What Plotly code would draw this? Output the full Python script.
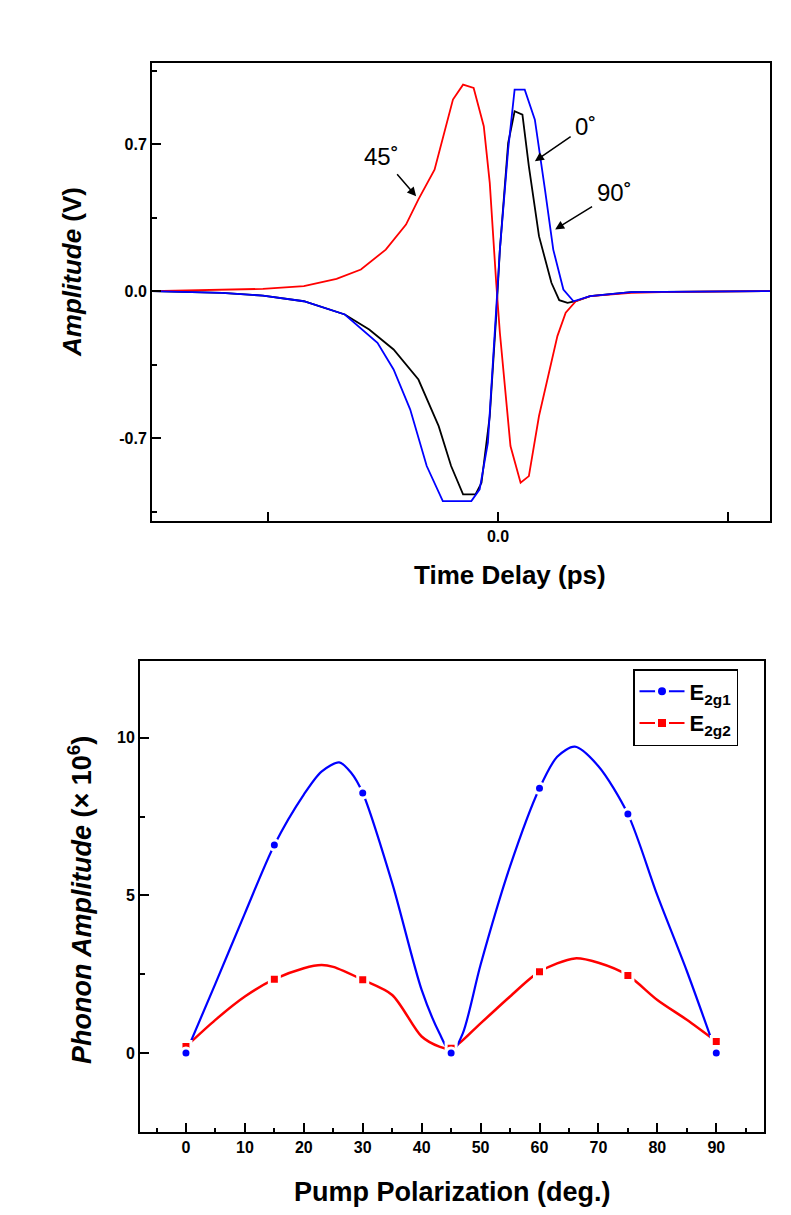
import plotly.graph_objects as go

# ---------------- Top panel data (time-delay traces) ----------------
t_0deg = [-0.752, -0.600, -0.511, -0.422, -0.333, -0.280, -0.227, -0.173, -0.129, -0.102, -0.076,
          -0.049, -0.036, -0.018, -0.004, 0.004, 0.022, 0.036, 0.053, 0.067, 0.089, 0.116, 0.133,
          0.151, 0.169, 0.200, 0.289, 0.591]
a_0deg = [0.0, -0.008, -0.021, -0.048, -0.111, -0.183, -0.278, -0.421, -0.643, -0.833, -0.968,
          -0.968, -0.913, -0.595, -0.119, 0.198, 0.706, 0.857, 0.841, 0.595, 0.262, 0.040, -0.043,
          -0.056, -0.048, -0.024, -0.005, 0.0]

t_45deg = [-0.752, -0.618, -0.511, -0.422, -0.351, -0.298, -0.244, -0.200, -0.173, -0.138, -0.098,
           -0.076, -0.053, -0.031, -0.018, -0.004, 0.004, 0.027, 0.049, 0.067, 0.089, 0.129, 0.147,
           0.169, 0.200, 0.289, 0.378, 0.591]
a_45deg = [0.0, 0.008, 0.011, 0.024, 0.059, 0.103, 0.198, 0.317, 0.437, 0.579, 0.913,
           0.984, 0.968, 0.786, 0.516, 0.040, -0.198, -0.738, -0.913, -0.881, -0.595, -0.214, -0.103,
           -0.048, -0.024, -0.008, -0.003, 0.0]

t_90deg = [-0.752, -0.600, -0.511, -0.422, -0.333, -0.262, -0.227, -0.191, -0.155, -0.120, -0.058,
           -0.040, -0.022, -0.009, 0.004, 0.022, 0.036, 0.058, 0.080, 0.102, 0.120, 0.142, 0.164,
           0.200, 0.289, 0.591]
a_90deg = [0.0, -0.008, -0.021, -0.048, -0.111, -0.246, -0.373, -0.563, -0.833, -1.0, -1.0,
           -0.944, -0.722, -0.278, 0.198, 0.675, 0.960, 0.960, 0.817, 0.484, 0.198, 0.008, -0.048,
           -0.024, -0.005, 0.0]

top_ytick_vals = [-0.7, 0.0, 0.7]
top_ytick_text = ["-0.7", "0.0", "0.7"]

# ---------------- Bottom panel data (phonon amplitude) ----------------
pol_deg = [0, 15, 30, 45, 60, 75, 90]
e2g1 = [0.0, 6.6, 8.25, 0.0, 8.4, 7.58, 0.0]
e2g2 = [0.2, 2.34, 2.32, 0.15, 2.58, 2.46, 0.36]

fit_x_e2g1 = [0, 5, 10, 15, 20, 23, 26, 28, 30, 35, 40, 43, 45, 47, 50, 55, 60, 63, 66, 70, 75, 80, 85, 90]
fit_y_e2g1 = [0.0, 2.2, 4.43, 6.6, 8.2, 8.93, 9.22, 8.9, 8.25, 5.39, 2.0, 0.63, 0.0, 0.63, 2.8, 5.92,
              8.4, 9.4, 9.72, 9.1, 7.58, 5.0, 2.6, 0.0]
fit_x_e2g2 = [0, 5, 10, 15, 20, 23, 25, 30, 35, 40, 43, 45, 50, 55, 60, 66, 70, 75, 80, 85, 90]
fit_y_e2g2 = [0.2, 1.05, 1.79, 2.34, 2.69, 2.79, 2.73, 2.32, 1.84, 0.52, 0.2, 0.13, 0.94, 1.79,
              2.58, 3.0, 2.86, 2.46, 1.68, 1.05, 0.36]

# page body has an 8px margin: size the figure to fit and convert window px -> paper
OFF = 8
W, H = 791 - 2 * OFF, 1215 - 2 * OFF
def px(x):
    return (x - OFF) / W
def py(y):
    return 1 - (y - OFF) / H

FONT = "Liberation Sans, Arial, sans-serif"

fig = go.Figure()

# top traces
fig.add_trace(go.Scatter(x=t_0deg, y=a_0deg, mode="lines", line=dict(color="black", width=1.8),
                         xaxis="x", yaxis="y", showlegend=False))
fig.add_trace(go.Scatter(x=t_45deg, y=a_45deg, mode="lines", line=dict(color="#ff0000", width=1.8),
                         xaxis="x", yaxis="y", showlegend=False))
fig.add_trace(go.Scatter(x=t_90deg, y=a_90deg, mode="lines", line=dict(color="#0000ff", width=1.8),
                         xaxis="x", yaxis="y", showlegend=False))

# bottom fitted curves
fig.add_trace(go.Scatter(x=fit_x_e2g2, y=fit_y_e2g2, mode="lines",
                         line=dict(color="#ff0000", width=2.5, shape="spline", smoothing=0.8),
                         xaxis="x2", yaxis="y2", showlegend=False))
fig.add_trace(go.Scatter(x=fit_x_e2g1, y=fit_y_e2g1, mode="lines",
                         line=dict(color="#0000ff", width=2.2, shape="spline", smoothing=0.8),
                         xaxis="x2", yaxis="y2", showlegend=False))
# bottom markers
fig.add_trace(go.Scatter(x=pol_deg, y=e2g2, mode="markers",
                         marker=dict(symbol="square", size=10, color="#ff0000", line=dict(color="white", width=3)),
                         xaxis="x2", yaxis="y2", showlegend=False))
fig.add_trace(go.Scatter(x=pol_deg, y=e2g1, mode="markers",
                         marker=dict(symbol="circle", size=10, color="#0000ff", line=dict(color="white", width=3)),
                         xaxis="x2", yaxis="y2", showlegend=False))
# legend entries
fig.add_trace(go.Scatter(x=[None], y=[None], mode="lines+markers", name="E<sub>2g1</sub>",
                         line=dict(color="#0000ff", width=2),
                         marker=dict(symbol="circle", size=11, color="#0000ff", line=dict(color="white", width=3)),
                         xaxis="x2", yaxis="y2"))
fig.add_trace(go.Scatter(x=[None], y=[None], mode="lines+markers", name="E<sub>2g2</sub>",
                         line=dict(color="#ff0000", width=2),
                         marker=dict(symbol="square", size=11, color="#ff0000", line=dict(color="white", width=3)),
                         xaxis="x2", yaxis="y2"))

tickfont = dict(family=FONT, size=16, color="black", weight="bold")
axis_common = dict(showline=True, linecolor="black", linewidth=2, mirror=True, ticks="inside",
                   tickcolor="black", tickwidth=1.5, showgrid=False, zeroline=False, tickfont=tickfont)

fig.update_layout(
    width=W, height=H, margin=dict(l=0, r=0, t=0, b=0),
    paper_bgcolor="white", plot_bgcolor="white",
    font=dict(family=FONT, color="black"),
    xaxis=dict(domain=[px(152), px(770)], anchor="y", range=[-0.752, 0.591],
               tickmode="array", tickvals=[0], ticktext=["0.0"], ticklen=9,
               minor=dict(tickmode="array", tickvals=[-0.5, 0.5], ticks="inside", ticklen=9,
                          tickcolor="black", tickwidth=1.5),
               **axis_common),
    yaxis=dict(domain=[py(521), py(63)], anchor="x", range=[-1.095, 1.087],
               tickmode="array", tickvals=top_ytick_vals, ticktext=top_ytick_text, ticklen=9,
               minor=dict(tickmode="linear", tick0=0, dtick=0.35, ticks="inside", ticklen=5,
                          tickcolor="black", tickwidth=1.5),
               **axis_common),
    xaxis2=dict(domain=[px(140), px(764)], anchor="y2", range=[-7.8, 98.1],
                tickmode="linear", tick0=0, dtick=10, ticklen=9,
                minor=dict(tickmode="linear", tick0=0, dtick=5, ticks="inside", ticklen=4,
                           tickcolor="black", tickwidth=1.5),
                **axis_common),
    yaxis2=dict(domain=[py(1132), py(661)], anchor="x2", range=[-2.51, 12.44],
                tickmode="linear", tick0=0, dtick=5, ticklen=9,
                minor=dict(tickmode="linear", tick0=0, dtick=2.5, ticks="inside", ticklen=5,
                           tickcolor="black", tickwidth=1.5),
                **axis_common),
    legend=dict(x=px(633), y=py(669), xanchor="left", yanchor="top",
                bgcolor="white", bordercolor="black", borderwidth=1.5,
                font=dict(family=FONT, size=22, color="black", weight="bold"),
                itemwidth=45, tracegroupgap=0),
)

title_top = dict(family=FONT, size=26, color="black", weight="bold")
title_bot = dict(family=FONT, size=27, color="black", weight="bold")
label_font = dict(family=FONT, size=24, color="black")
arrow_style = dict(xref="x", yref="y", axref="x", ayref="y", showarrow=True, arrowhead=2,
                   arrowsize=1.2, arrowwidth=1.5, arrowcolor="black", font=label_font,
                   standoff=0, startstandoff=4)

annotations = [
    dict(text="<i>Amplitude</i> (V)", x=px(72), y=py(272), xref="paper", yref="paper",
         showarrow=False, textangle=-90, font=title_top, xanchor="center", yanchor="middle"),
    dict(text="Time Delay (ps)", x=px(510), y=py(575), xref="paper", yref="paper",
         showarrow=False, font=title_top, xanchor="center", yanchor="middle"),
    dict(text="<i>Phonon Amplitude</i> (× 10<sup>6</sup>)", x=px(80), y=py(900), xref="paper", yref="paper",
         showarrow=False, textangle=-90, font=title_bot, xanchor="center", yanchor="middle"),
    dict(text="Pump Polarization (deg.)", x=px(452), y=py(1192), xref="paper", yref="paper",
         showarrow=False, font=title_bot, xanchor="center", yanchor="middle"),
    # curve labels with arrows (text at ax/ay, arrow tip at x/y)
    dict(text="45˚", x=-0.178, y=0.452, ax=-0.253, ay=0.643, **arrow_style),
    dict(text="0˚", x=0.080, y=0.619, ax=0.191, ay=0.786, **arrow_style),
    dict(text="90˚", x=0.124, y=0.294, ax=0.253, ay=0.468, **arrow_style),
]
fig.update_layout(annotations=annotations)

fig.write_html("out.html")
